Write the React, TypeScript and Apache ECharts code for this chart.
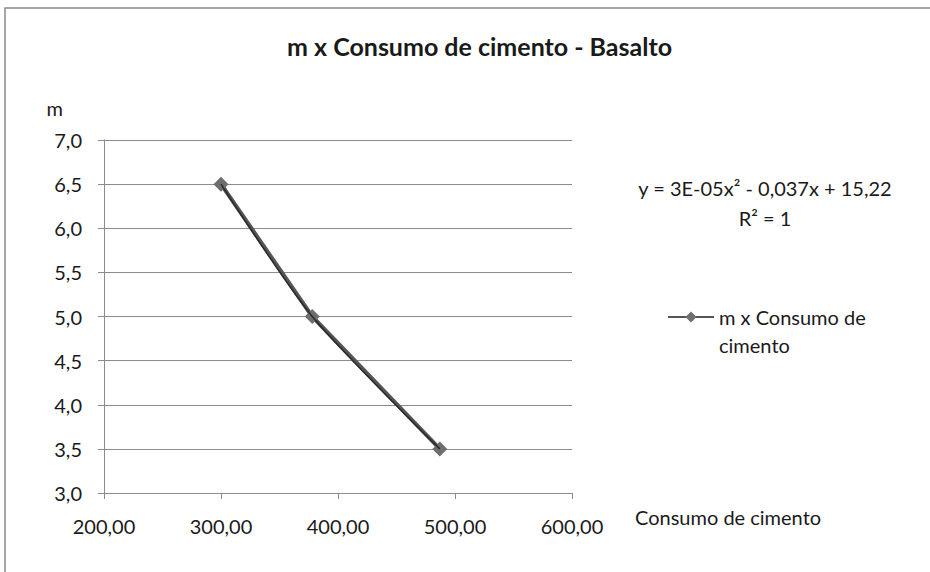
import React, { useEffect, useRef } from "react";
import * as echarts from "echarts";

const seriesName = "m x Consumo de cimento";
const cimento = [300, 378, 487];
const mValues = [6.5, 5.0, 3.5];
const equationText = "y = 3E-05x² - 0,037x + 15,22";
const r2Text = "R² = 1";
const titleText = "m x Consumo de cimento - Basalto";
const xName = "Consumo de cimento";
const yName = "m";

const FONT = "Lato";

export default function App() {
  const ref = useRef<HTMLDivElement>(null);
  useEffect(() => {
    if (!ref.current) return;
    const chart = echarts.init(ref.current, null, { renderer: "svg" });
    const pts = cimento.map((x, i) => [x, mValues[i]]);
    chart.setOption({
      animation: false,
      backgroundColor: "#ffffff",
      textStyle: { fontFamily: FONT },
      title: {
        text: titleText,
        left: 282,
        top: 28,
        textStyle: { fontFamily: FONT, fontSize: 25, fontWeight: "bold", color: "#1a1a1a" },
      },
      grid: { left: 104, right: 358, top: 140, bottom: 79 },
      xAxis: {
        type: "value",
        min: 200,
        max: 600,
        interval: 100,
        name: xName,
        nameLocation: "end",
        nameGap: 63,
        nameTextStyle: { fontFamily: FONT, fontSize: 20, color: "#1a1a1a", align: "left", verticalAlign: "top", padding: [14, 0, 0, 0] },
        axisLine: { show: true, lineStyle: { color: "#8c8c8c", width: 1 } },
        axisTick: { show: true, length: 6, lineStyle: { color: "#8c8c8c" } },
        axisLabel: {
          margin: 23,
          fontFamily: FONT,
          fontSize: 20,
          color: "#1a1a1a",
          formatter: (v: number) => v.toFixed(2).replace(".", ","),
        },
        splitLine: { show: false },
      },
      yAxis: {
        type: "value",
        min: 3,
        max: 7,
        interval: 0.5,
        name: yName,
        nameLocation: "end",
        nameGap: 22,
        nameTextStyle: { fontFamily: FONT, fontSize: 20, color: "#1a1a1a", align: "right", padding: [0, 41, 0, 0] },
        axisLine: { show: true, lineStyle: { color: "#8c8c8c", width: 1 } },
        axisTick: { show: true, length: 6, lineStyle: { color: "#8c8c8c" } },
        axisLabel: {
          margin: 22,
          fontFamily: FONT,
          fontSize: 20,
          color: "#1a1a1a",
          formatter: (v: number) => v.toFixed(1).replace(".", ","),
        },
        splitLine: { show: true, lineStyle: { color: "#8c8c8c", width: 1 } },
      },
      legend: {
        left: 662,
        top: 270,
        itemWidth: 46,
        itemHeight: 14,
        data: [seriesName],
        formatter: () => " \nm x Consumo de\ncimento",
        textStyle: { fontFamily: FONT, fontSize: 20, color: "#1a1a1a", lineHeight: 28 },
      },
      series: [
        {
          name: seriesName,
          type: "line",
          data: pts,
          symbol: "diamond",
          symbolSize: 15,
          itemStyle: { color: "#6e6e6e" },
          lineStyle: { color: "#555555", width: 4 },
          z: 2,
        },
        {
          name: "trend",
          type: "line",
          data: pts,
          smooth: 0.25,
          symbol: "none",
          lineStyle: { color: "#2a2a2a", width: 1.5 },
          z: 3,
          silent: true,
        },
      ],
      graphic: [
        {
          type: "rect",
          shape: { x: 5, y: 8, width: 1000, height: 700 },
          style: { fill: "none", stroke: "#8a8a8a", lineWidth: 1.5 },
          silent: true,
        },
        {
          type: "text",
          x: 765,
          y: 188,
          style: { text: equationText, fontFamily: FONT, fontSize: 20, fill: "#1a1a1a", textAlign: "center", textVerticalAlign: "middle" },
        },
        {
          type: "text",
          x: 765,
          y: 218,
          style: { text: r2Text, fontFamily: FONT, fontSize: 20, fill: "#1a1a1a", textAlign: "center", textVerticalAlign: "middle" },
        },
      ],
    });
    return () => chart.dispose();
  }, []);
  return <div ref={ref} style={{ position: "fixed", left: 0, top: 0, width: 930, height: 572 }} />;
}
